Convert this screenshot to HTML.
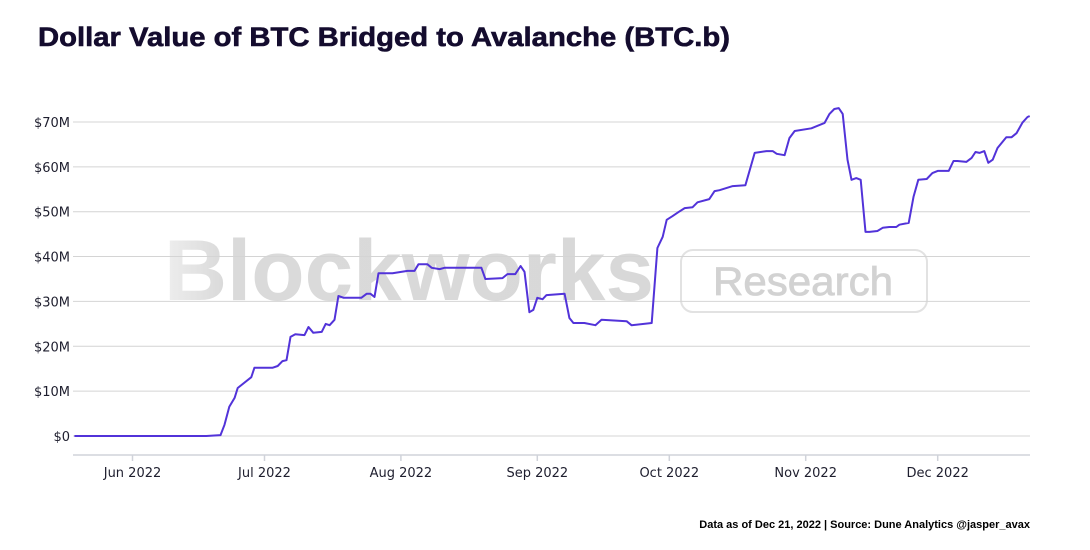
<!DOCTYPE html>
<html><head><meta charset="utf-8"><style>
body{margin:0;background:#fff;}
svg text{font-family:"DejaVu Sans","Liberation Sans",sans-serif;}
</style></head><body>
<svg width="1090" height="545" viewBox="0 0 1090 545">
<text x="38" y="46" textLength="692" lengthAdjust="spacingAndGlyphs" font-weight="900" font-size="27" fill="#140c2e" stroke="#140c2e" stroke-width="0.6" style="font-family:'Liberation Sans',sans-serif">Dollar Value of BTC Bridged to Avalanche (BTC.b)</text>
<defs><linearGradient id="wg" x1="0" x2="1" y1="0" y2="0"><stop offset="0" stop-color="#eeeeee"/><stop offset="0.12" stop-color="#dadada"/><stop offset="1" stop-color="#d8d8d8"/></linearGradient></defs>
<g>
<text x="164" y="300" textLength="490" lengthAdjust="spacingAndGlyphs" font-size="86" font-weight="bold" fill="url(#wg)" style="font-family:'Liberation Sans',sans-serif">Blockworks</text>
<rect x="681" y="250" width="246" height="62" rx="12" fill="none" stroke="#e2e2e2" stroke-width="2"/>
<text x="803" y="295" text-anchor="middle" textLength="180" lengthAdjust="spacingAndGlyphs" font-size="40" fill="#d2d2d2" stroke="#d2d2d2" stroke-width="0.8" style="font-family:'Liberation Sans',sans-serif">Research</text>
</g>
<g id="grid"></g>
<g id="xaxis"></g>
<path id="line" fill="none" stroke="#5233d9" stroke-width="2" stroke-linejoin="round"/>
<text x="1030" y="528" text-anchor="end" font-size="11" font-weight="bold" fill="#000" style="font-family:'Liberation Sans',sans-serif">Data as of Dec 21, 2022 | Source: Dune Analytics @jasper_avax</text>
</svg>
<script>
// days since Jun 1 2022, value in $M
const days=[-13.2,16.8,20.0,20.9,22.0,23.2,23.9,27.0,27.7,28.9,30.7,31.8,33.0,34.1,35.0,35.9,37.0,39.1,40.0,41.1,43.0,43.9,44.8,45.9,46.8,48.0,50.0,52.0,53.2,54.1,55.0,55.9,59.1,62.5,64.1,65.0,67.0,68.0,69.8,70.9,79.3,80.2,84.1,85.2,87.0,88.2,89.1,90.2,91.1,92.0,93.2,94.1,98.2,99.3,100.2,102.7,105.2,106.6,112.3,113.4,118.0,119.3,120.5,121.4,122.7,124.1,125.5,127.3,128.4,131.1,132.3,133.4,136.4,139.3,141.4,144.1,145.5,146.4,148.2,149.3,150.5,154.3,157.3,158.4,159.5,160.5,161.4,162.5,163.4,164.5,165.5,166.6,167.5,169.3,170.5,172.0,173.6,174.3,176.4,177.5,178.6,180.5,181.8,183.0,185.5,186.6,187.5,189.5,190.7,191.6,192.5,193.6,194.5,195.5,196.6,198.6,199.8,200.9,202.3,203.4,203.9];
const values=[0,0,0.2,2.5,6.5,8.5,10.7,13.1,15.2,15.2,15.2,15.2,15.6,16.7,16.9,22.1,22.7,22.5,24.3,23.0,23.2,25.0,24.7,25.9,31.2,30.8,30.8,30.8,31.7,31.7,31.0,36.3,36.3,36.8,36.8,38.3,38.3,37.5,37.2,37.5,37.5,35.0,35.2,36.1,36.1,37.9,36.6,27.6,28.1,30.8,30.5,31.4,31.7,26.3,25.2,25.2,24.7,25.9,25.6,24.7,25.2,41.9,44.4,48.2,49.0,49.9,50.8,51.0,52.1,52.8,54.6,54.8,55.7,55.9,63.1,63.5,63.5,62.9,62.6,66.4,68.0,68.6,69.8,71.8,72.9,73.1,71.8,61.6,57.1,57.5,57.1,45.5,45.5,45.7,46.4,46.6,46.6,47.1,47.5,53.3,57.1,57.3,58.6,59.1,59.1,61.3,61.3,61.1,62.0,63.3,63.1,63.5,60.9,61.6,64.2,66.6,66.6,67.5,69.9,71.1,71.3];
const yTicks=[0,10,20,30,40,50,60,70];
const yLabels=["$0","$10M","$20M","$30M","$40M","$50M","$60M","$70M"];
const xTickDays=[0,30,61,92,122,153,183];
const xLabels=["Jun 2022","Jul 2022","Aug 2022","Sep 2022","Oct 2022","Nov 2022","Dec 2022"];
const ns="http://www.w3.org/2000/svg";
const X=d=>132.5+d*4.4, Y=v=>436-v*4.486;
const grid=document.getElementById('grid'), xa=document.getElementById('xaxis');
function mk(tag,attrs,parent){const e=document.createElementNS(ns,tag);for(const k in attrs)e.setAttribute(k,attrs[k]);parent.appendChild(e);return e;}
yTicks.forEach((t,i)=>{
  const l=mk('line',{x1:73,x2:1030,y1:Y(t),y2:Y(t),stroke:'#d4d4d4','stroke-width':1},grid);
  
  
  const tx=mk('text',{x:70,y:Y(t)+5,'text-anchor':'end','font-size':13,fill:'#1e1e2e'},grid);
  tx.textContent=yLabels[i];
  
  
});
const ax=mk('line',{x1:73,x2:1030,y1:455,y2:455,stroke:'#d0d3da','stroke-width':1.5},xa);


xTickDays.forEach((d,i)=>{
  const t=mk('line',{x1:X(d),x2:X(d),y1:455,y2:461,stroke:'#d0d3da','stroke-width':1.5},xa);
  
  
  const tx=mk('text',{x:X(d),y:477,'text-anchor':'middle','font-size':13,fill:'#1e1e2e'},xa);
  tx.textContent=xLabels[i];
  
  
});
document.getElementById('line').setAttribute('d',days.map((d,i)=>(i?'L':'M')+X(d).toFixed(1)+','+Y(values[i]).toFixed(1)).join(''));
</script>
</body></html>
